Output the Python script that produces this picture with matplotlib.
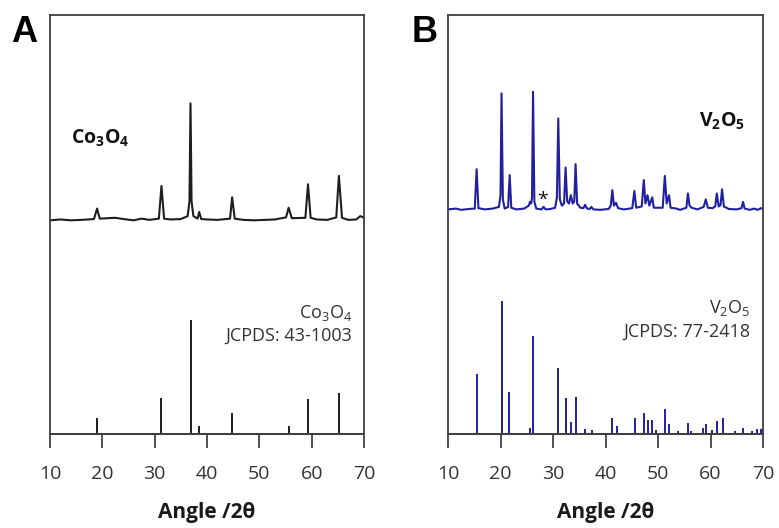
import matplotlib
matplotlib.use("Agg")
import matplotlib.pyplot as plt

plt.rcParams['font.family'] = ['Open Sans', 'DejaVu Sans']
plt.rcParams['mathtext.fontset'] = 'custom'
plt.rcParams['mathtext.rm'] = 'Open Sans'
plt.rcParams['mathtext.bf'] = 'Open Sans:bold'
plt.rcParams['mathtext.it'] = 'Open Sans:italic'
plt.rcParams['mathtext.default'] = 'rm'

# ---- panel A: Co3O4 measured scan (angle, intensity a.u.) ----
co_scan_angle = [10, 12, 14, 16, 18.4, 19.0, 19.5, 21, 22.5, 24, 26, 27.5, 29, 30.8,
                 31.3, 31.8, 33, 35, 36.3, 36.65, 36.85, 37.05, 37.4, 38.2, 38.5, 38.9,
                 40, 42, 44.4, 44.8, 45.3, 47, 49, 51, 53, 55.1, 55.6, 56.2, 58.8,
                 59.3, 59.8, 61, 63, 64.7, 65.2, 65.8, 67, 68.5, 69.3, 70]
co_scan_int = [51.0, 51.2, 51.0, 51.1, 51.3, 53.8, 51.4, 51.5, 51.6, 51.3, 51.0, 51.4,
               51.1, 51.4, 59.2, 51.4, 51.2, 51.3, 52.0, 55.5, 78.9, 55.5, 52.0, 51.4,
               53.0, 51.3, 51.2, 51.1, 51.4, 56.5, 51.4, 51.1, 51.0, 51.1, 51.2, 51.7,
               54.0, 51.5, 51.6, 59.6, 51.6, 51.2, 51.1, 51.7, 61.6, 51.6, 51.1, 51.2,
               52.0, 51.6]

# JCPDS 43-1003 reference lines
co_ref_angle = [19.0, 31.3, 36.85, 38.5, 44.8, 55.6, 59.35, 65.25]
co_ref_int = [3.8, 8.6, 27.2, 1.9, 4.9, 1.9, 8.3, 9.9]

# ---- panel B: V2O5 measured scan ----
v_scan_angle = [10, 11.5, 12.5, 14, 15.1, 15.45, 15.8, 17, 18.5, 19.7, 20.0, 20.2, 20.45,
                20.8, 21.45, 21.75, 22.05, 23, 24.5, 25.4, 25.6, 25.85, 26.0, 26.2, 26.45,
                26.8, 27.8, 28.2, 28.6, 29.5, 30.4, 30.75, 31.0, 31.3, 31.7, 32.1, 32.4,
                32.7, 33.05, 33.4, 33.75, 34.05, 34.3, 34.6, 35.2, 35.8, 36.1, 36.5, 37.0,
                37.3, 37.7, 39, 40.6, 41.0, 41.3, 41.6, 42.0, 42.4, 43.5, 45.1, 45.5,
                45.85, 46.9, 47.3, 47.6, 48.0, 48.35, 48.9, 49.2, 49.6, 50.9, 51.3, 51.65,
                52.1, 52.4, 53.5, 54.2, 55.4, 55.7, 56.0, 56.4, 57.5, 58.7, 59.1, 59.5,
                60.4, 60.9, 61.2, 61.55, 61.9, 62.2, 62.55, 63.5, 65.0, 65.9, 66.2, 66.5,
                67.5, 68.3, 69.0, 69.6, 70]
v_scan_int = [53.6, 53.8, 53.5, 53.7, 53.8, 63.2, 53.9, 53.6, 53.8, 54.2, 57.0, 81.3, 56.0,
              53.8, 54.2, 61.8, 54.0, 53.6, 53.8, 54.5, 55.4, 55.0, 56.5, 81.7, 55.5,
              53.8, 53.6, 54.2, 53.6, 53.7, 54.0, 56.5, 75.3, 56.0, 54.5, 55.0, 63.6,
              55.5, 55.0, 57.0, 55.0, 55.5, 64.4, 55.0, 54.0, 53.9, 54.7, 53.8, 53.7,
              54.2, 53.6, 53.5, 53.7, 54.5, 58.2, 54.5, 55.2, 53.9, 53.6, 53.9, 58.0,
              54.0, 54.3, 60.6, 55.0, 57.0, 54.5, 56.5, 54.0, 54.0, 54.0, 61.6, 55.0,
              57.0, 54.0, 53.8, 53.5, 54.0, 57.4, 54.5, 54.0, 53.6, 54.2, 56.0, 54.0,
              53.9, 54.3, 57.4, 54.3, 54.6, 58.4, 54.3, 53.7, 53.6, 53.9, 55.4, 53.8,
              53.5, 53.8, 53.5, 53.9, 53.7]

# JCPDS 77-2418 reference lines
v_ref_angle = [15.45, 20.25, 21.7, 25.6, 26.2, 31.0, 32.4, 33.4, 34.3, 36.1, 37.4, 41.3,
               42.1, 44.4, 45.6, 47.4, 48.0, 48.9, 49.6, 51.3, 52.1, 53.8, 55.8, 56.3,
               58.6, 59.1, 60.2, 61.2, 62.3, 64.7, 66.2, 67.9, 68.8, 69.6, 70.0]
v_ref_int = [14.3, 31.8, 10.0, 1.5, 23.5, 15.7, 8.5, 2.9, 8.8, 1.1, 1.0, 3.7,
             2.0, 0.3, 3.9, 5.1, 3.3, 3.3, 1.0, 5.9, 2.4, 0.6, 2.7, 0.8,
             1.4, 2.4, 1.0, 3.2, 3.7, 0.8, 1.5, 0.8, 1.1, 1.3, 1.5]

x_ticks = [10, 20, 30, 40, 50, 60, 70]

fig = plt.figure(figsize=(7.79, 5.28), dpi=100)
axA = fig.add_axes([50/779, 1-434/528, 314/779, 419/528])
axB = fig.add_axes([448/779, 1-434/528, 315/779, 419/528])

black = '#1e1e1e'
blue = '#2020a0'

axA.plot(co_scan_angle, co_scan_int, color=black, lw=1.5)
axA.vlines(co_ref_angle, 0, co_ref_int, color=black, lw=1.4)
axB.plot(v_scan_angle, v_scan_int, color=blue, lw=1.5)
axB.vlines(v_ref_angle, 0, v_ref_int, color=blue, lw=1.4)

for ax in (axA, axB):
    ax.set_xlim(10, 70)
    ax.set_ylim(0, 100)
    ax.set_yticks([])
    ax.set_xticks(x_ticks)
    ax.tick_params(axis='x', direction='out', length=10, width=1.2, pad=12,
                   labelsize=14, colors='#333333')
    for s in ax.spines.values():
        s.set_color('#404040')
        s.set_linewidth(1.3)
    ax.axhline(0, color='#222222', lw=1.2, clip_on=False)
    ax.set_xlabel('Angle /2θ', fontsize=15, fontweight='bold', labelpad=14, color='#1a1a1a')

# labels
axA.text(19.6, 70.6, r'$\mathbf{Co_3O_4}$', fontsize=14, ha='center', va='center', color='#111111')
axA.text(67.7, 28.9, r'Co$_3$O$_4$', fontsize=13, ha='right', va='center', color='#333333')
axA.text(67.7, 23.4, 'JCPDS: 43-1003', fontsize=13, ha='right', va='center', color='#333333')

axB.text(62.2, 74.7, r'$\mathbf{V_2O_5}$', fontsize=14, ha='center', va='center', color='#111111')
axB.text(28.1, 56.0, '*', fontsize=14, ha='center', va='center', color='#111111')
axB.text(67.5, 30.1, r'V$_2$O$_5$', fontsize=13, ha='right', va='center', color='#333333')
axB.text(67.5, 24.3, 'JCPDS: 77-2418', fontsize=13, ha='right', va='center', color='#333333')

fig.text(24/779, 1-33/528, 'A', fontsize=26, fontweight='bold', family='Liberation Sans',
         ha='center', va='center')
fig.text(425/779, 1-33/528, 'B', fontsize=26, fontweight='bold', family='Liberation Sans',
         ha='center', va='center')

fig.savefig('out.png', dpi=100)
